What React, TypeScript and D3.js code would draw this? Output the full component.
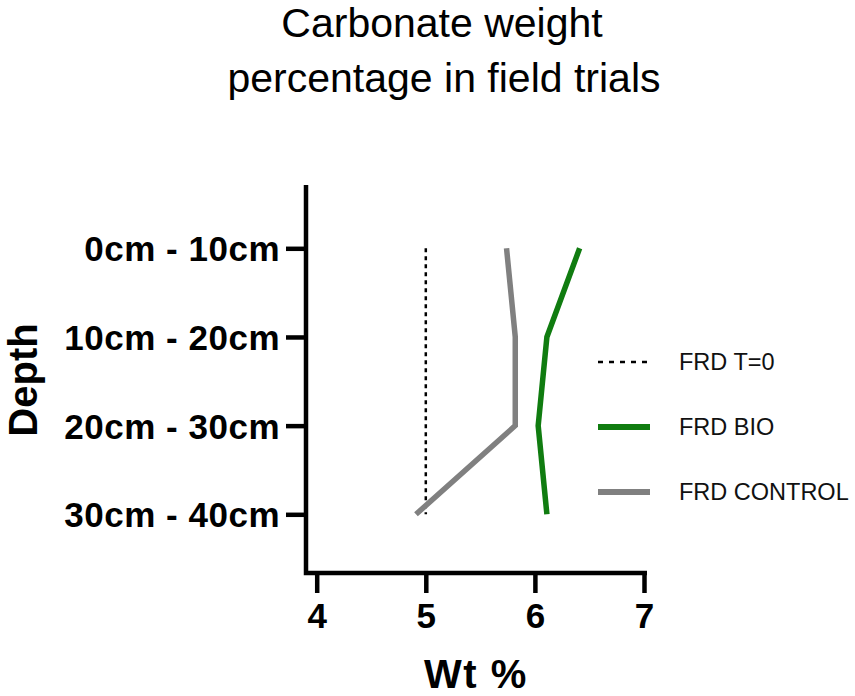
import React, { useRef, useEffect } from "react";
import * as d3 from "d3";

const width = 855;
const height = 696;

const depths = ["0cm - 10cm", "10cm - 20cm", "20cm - 30cm", "30cm - 40cm"];
const t0Values = [5.0, 5.0, 5.0, 5.0];
const bioValues = [6.41, 6.11, 6.03, 6.11];
const controlValues = [5.74, 5.82, 5.82, 4.91];
const xTicks = [4, 5, 6, 7];

const series = [
  { name: "FRD T=0", values: t0Values, color: "#000", width: 2.5, dash: "4,4", legendDash: "5,6" },
  { name: "FRD BIO", values: bioValues, color: "#107c10", width: 5.5, dash: null, legendDash: null },
  { name: "FRD CONTROL", values: controlValues, color: "#808080", width: 5.5, dash: null, legendDash: null },
];

const font = "'Liberation Sans', Arial, sans-serif";

export default function App() {
  const ref = useRef<SVGSVGElement | null>(null);

  useEffect(() => {
    const svg = d3.select(ref.current);
    svg.selectAll("*").remove();

    const x = d3.scaleLinear().domain([4, 7]).range([316.7, 644]);
    const y = d3.scalePoint<string>().domain(depths).range([248.3, 514.3]);

    const left = 306;
    const bottom = 573;

    // title
    const title = svg
      .append("text")
      .attr("text-anchor", "middle")
      .attr("font-family", font)
      .attr("font-size", 41)
      .attr("fill", "#000");
    title.append("tspan").attr("x", 442).attr("y", 37).text("Carbonate weight");
    title.append("tspan").attr("x", 444).attr("y", 92).text("percentage in field trials");

    // lines
    series.forEach((s) => {
      const line = d3
        .line<number>()
        .x((d) => x(d))
        .y((_, i) => y(depths[i])!);
      const p = svg
        .append("path")
        .attr("d", line(s.values)!)
        .attr("fill", "none")
        .attr("stroke", s.color)
        .attr("stroke-width", s.width)
        .attr("stroke-linejoin", "miter");
      if (s.dash) p.attr("stroke-dasharray", s.dash);
    });

    // Y axis
    const gy = svg
      .append("g")
      .attr("transform", `translate(${left},0)`)
      .call(d3.axisLeft(y).tickSize(20).tickPadding(6));
    gy.select(".domain").remove();
    gy.selectAll(".tick line").attr("stroke", "#000").attr("stroke-width", 4.5);
    gy.selectAll(".tick text")
      .attr("font-family", font)
      .attr("font-weight", "bold")
      .attr("font-size", 35)
      .attr("letter-spacing", 0.5)
      .attr("fill", "#000")
      .attr("dy", "0.36em");

    // X axis
    const gx = svg
      .append("g")
      .attr("transform", `translate(0,${bottom})`)
      .call(d3.axisBottom(x).tickValues(xTicks).tickFormat(d3.format("d")).tickSize(20).tickPadding(10));
    gx.select(".domain").remove();
    gx.selectAll(".tick line").attr("stroke", "#000").attr("stroke-width", 4.5);
    gx.selectAll(".tick text")
      .attr("font-family", font)
      .attr("font-weight", "bold")
      .attr("font-size", 35)
      .attr("fill", "#000");

    // axis lines
    svg
      .append("path")
      .attr("d", `M${left},185 V${bottom} H647`)
      .attr("fill", "none")
      .attr("stroke", "#000")
      .attr("stroke-width", 4.5)
      .attr("stroke-linejoin", "miter");

    // axis titles
    svg
      .append("text")
      .attr("x", 476)
      .attr("y", 688)
      .attr("text-anchor", "middle")
      .attr("font-family", font)
      .attr("font-weight", "bold")
      .attr("font-size", 40)
      .attr("letter-spacing", 1.5)
      .text("Wt %");

    svg
      .append("text")
      .attr("transform", "translate(37,380) rotate(-90)")
      .attr("text-anchor", "middle")
      .attr("font-family", font)
      .attr("font-weight", "bold")
      .attr("font-size", 40)
      .text("Depth");

    // legend
    const legendY = d3.scalePoint<string>().domain(series.map((s) => s.name)).range([362, 492]);
    series.forEach((s) => {
      const ly = legendY(s.name)!;
      const l = svg
        .append("line")
        .attr("x1", 598)
        .attr("x2", 650)
        .attr("y1", ly)
        .attr("y2", ly)
        .attr("stroke", s.color)
        .attr("stroke-width", s.dash ? 2.5 : 6);
      if (s.legendDash) l.attr("stroke-dasharray", s.legendDash);
      svg
        .append("text")
        .attr("x", 679)
        .attr("y", ly)
        .attr("dy", "0.36em")
        .attr("font-family", font)
        .attr("font-size", 23.5)
        .attr("fill", "#111")
        .text(s.name);
    });
  }, []);

  return (
    <div style={{ position: "absolute", left: 0, top: 0 }}>
      <svg ref={ref} width={width} height={height} style={{ display: "block", background: "#fff" }} />
    </div>
  );
}
